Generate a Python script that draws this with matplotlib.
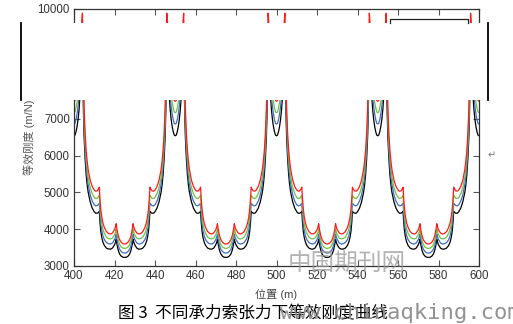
import numpy as np
import matplotlib
matplotlib.use('Agg')
import matplotlib.pyplot as plt
from matplotlib.lines import Line2D
from matplotlib.patches import Rectangle

plt.rcParams['font.family'] = ['Liberation Sans', 'Noto Sans CJK SC', 'DejaVu Sans']

# tower positions (m) - spans of 50 m, curve is symmetric about mid-span
towers = [400, 450, 500, 550]
span = 50.0

# half-span offsets from the tower (m)
offset = [0, 0.5, 1.0, 1.5, 2.0, 2.5, 3.0, 3.5, 3.9, 4.17, 4.4, 4.7, 5.0, 5.5, 6.0,
          6.5, 7.0, 8.0, 9.0, 10.0, 10.7, 11.5, 12.2, 12.5, 12.8, 13.2, 13.7, 14.3,
          15.0, 16.0, 17.0, 18.0, 19.0, 20.0, 20.5, 20.83, 21.2, 21.8, 22.5, 23.3,
          24.2, 25.0]

# equivalent stiffness for four messenger-wire tensions (low -> high)
k_black = [6540, 6560, 6650, 6790, 6980, 7250, 7650, 8150, 8500, 8700, 8000, 7100,
           6500, 5900, 5480, 5200, 5000, 4740, 4570, 4470, 4430, 4430, 4460, 4480,
           4200, 3950, 3770, 3640, 3550, 3480, 3455, 3450, 3480, 3570, 3640, 3720,
           3590, 3430, 3320, 3260, 3230, 3225]
k_blue = [6860, 6880, 6980, 7130, 7330, 7610, 8020, 8540, 8900, 9100, 8330, 7400,
          6770, 6130, 5700, 5410, 5210, 4930, 4760, 4660, 4630, 4640, 4680, 4700,
          4420, 4150, 3960, 3810, 3710, 3630, 3600, 3590, 3620, 3710, 3780, 3860,
          3730, 3560, 3450, 3390, 3350, 3345]
k_green = [7170, 7190, 7300, 7450, 7660, 7950, 8380, 8930, 9300, 9500, 8670, 7700,
           7030, 6370, 5930, 5630, 5410, 5130, 4960, 4860, 4830, 4840, 4890, 4920,
           4630, 4360, 4140, 3990, 3880, 3780, 3740, 3730, 3750, 3840, 3920, 4000,
           3860, 3700, 3580, 3510, 3480, 3470]
k_red = [7480, 7500, 7620, 7780, 8000, 8300, 8750, 9300, 9700, 9880, 9000, 8000,
         7300, 6600, 6150, 5850, 5620, 5330, 5160, 5060, 5030, 5040, 5100, 5140,
         4850, 4560, 4330, 4160, 4040, 3930, 3880, 3865, 3890, 3980, 4060, 4145,
         4000, 3830, 3710, 3640, 3600, 3590]


def full_line(vals):
    d = np.array(offset)
    v = np.array(vals, dtype=float)
    # mirror half span about mid-span
    d_span = np.concatenate([d, span - d[-2::-1]])
    v_span = np.concatenate([v, v[-2::-1]])
    xs, ys = [], []
    for t in towers:
        xs.append(t + d_span[:-1])
        ys.append(v_span[:-1])
    xs.append([towers[-1] + span])
    ys.append([v[0]])
    return np.concatenate(xs), np.concatenate(ys)


fig = plt.figure(figsize=(5.13, 3.24), dpi=100)
W, H = 513.0, 324.0
ax = fig.add_axes([74 / W, 58.3 / H, 405 / W, 256.9 / H])

series = [(k_black, '#000000'), (k_blue, '#3d6cc4'), (k_green, '#72c043'), (k_red, '#ff1a1a')]
for vals, c in series:
    x, y = full_line(vals)
    ax.plot(x, y, color=c, lw=0.9)

ax.set_xlim(400, 600)
ax.set_ylim(3000, 10000)
ax.set_xticks(np.arange(400, 601, 20))
ax.set_yticks(np.arange(3000, 10001, 1000))
ax.tick_params(direction='in', length=4, width=0.8, top=True, right=True,
               labelsize=8.3, labelcolor='#333333', color='#555555', pad=3)
for s in ax.spines.values():
    s.set_color('#333333')
    s.set_linewidth(0.9)
ax.set_xlabel('位置 (m)', fontsize=8, color='#444444', labelpad=5)
ax.set_ylabel('等效刚度 (m/N)', fontsize=8, color='#555555', labelpad=2)

# pasted-over white band with frame remnants
fig.add_artist(Rectangle((0, 1 - 100 / H), 1, 77 / H, transform=fig.transFigure,
                         facecolor='white', edgecolor='none', zorder=10))
fig.add_artist(Line2D([21.3 / W] * 2, [1 - 23 / H, 1 - 100 / H], transform=fig.transFigure,
                      color='black', lw=1.3, zorder=11))
fig.add_artist(Line2D([488.3 / W] * 2, [1 - 23 / H, 1 - 100 / H], transform=fig.transFigure,
                      color='black', lw=1.3, zorder=11))
fig.add_artist(Line2D(np.array([390, 390, 467.7, 467.7]) / W,
                      1 - np.array([22.7, 19.3, 19.3, 22.7]) / H,
                      transform=fig.transFigure, color='#222222', lw=0.9, zorder=11))

fig.text(491.7 / W, 1 - 155 / H, '↵', fontsize=7, color='#777777', ha='center', va='center',
         family=['DejaVu Sans'])

# caption
fig.text(118 / W, 1 - 314 / H, '图 3  不同承力索张力下等效刚度曲线', fontsize=12, color='black',
         ha='left', va='center', family=['Noto Sans CJK SC'])

# watermark
fig.text(347 / W, 1 - 263 / H, '中国期刊网', fontsize=17, color='#9a9a9a', alpha=0.75,
         ha='center', va='center', family=['Noto Sans CJK SC'], zorder=12)
fig.text(280 / W, 1 - 313 / H, 'www.chinaqking.com', fontsize=16, color='#8c8c8c', alpha=0.95,
         ha='left', va='center', family=['DejaVu Sans Mono'], zorder=12)

fig.savefig('out.png', dpi=100)
